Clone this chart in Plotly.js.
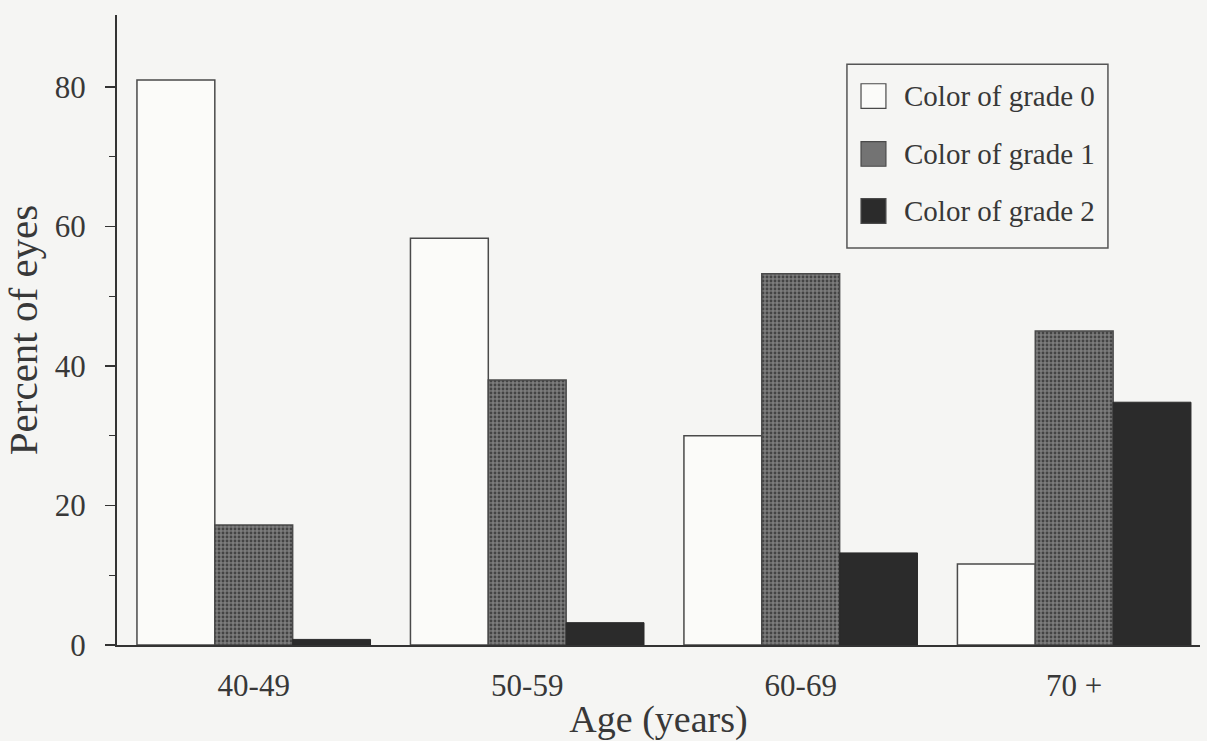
<!DOCTYPE html>
<html>
<head>
<meta charset="utf-8">
<script src="https://cdn.plot.ly/plotly-3.0.1.min.js"></script>
<style>
  html, body { margin: 0; padding: 0; background: #f5f5f3; }
  #chart { width: 1207px; height: 741px; }
</style>
</head>
<body>
<div id="chart"></div>
<script>
// ---- data ----
const ageGroups = ["40-49", "50-59", "60-69", "70 +"];
const seriesNames = ["Color of grade 0", "Color of grade 1", "Color of grade 2"];
const grade0 = [81, 58.3, 30, 11.6];
const grade1 = [17.2, 38, 53.2, 45];
const grade2 = [0.8, 3.2, 13.2, 34.8];
const yTickVals = [0, 20, 40, 60, 80];
const yMinorVals = [10, 30, 50, 70];
const xTitle = "Age (years)";
const yTitle = "Percent of eyes";

// ---- styles ----
const FONT = "Liberation Serif, Times New Roman, serif";
const INK = "#383838";
const outline = { color: "#4a4a4a", width: 1.5 };

const styles = [
  { color: "#fbfbf9", line: outline },
  { color: "#6e6e6e", line: outline,
    pattern: { shape: ".", bgcolor: "#7c7c7c", fgcolor: "#444444", size: 4, solidity: 0.4 } },
  { color: "#2b2b2b", line: { color: "#2b2b2b", width: 1 } }
];

const values = [grade0, grade1, grade2];
const traces = values.map((vals, i) => ({
  type: "bar",
  name: seriesNames[i],
  x: ageGroups,
  y: vals,
  marker: styles[i],
  showlegend: false,
  hoverinfo: "x+y+name"
}));

// manual legend (layout decoration built from series names)
const shapes = [{
  type: "rect", xref: "paper", yref: "paper",
  x0: 0.674, x1: 0.915, y0: 0.630, y1: 0.922,
  line: { color: "#555", width: 1.5 }, fillcolor: "rgba(0,0,0,0)"
}];
const annotations = [];
const rowY = [0.8714, 0.7794, 0.6889];
const symColors = ["#fbfbf9", "#737373", "#2b2b2b"];
seriesNames.forEach((name, i) => {
  shapes.push({
    type: "rect", xref: "paper", yref: "paper",
    x0: 0.687, x1: 0.710, y0: rowY[i] - 0.0195, y1: rowY[i] + 0.0195,
    line: { color: "#4a4a4a", width: 1.2 }, fillcolor: symColors[i]
  });
  annotations.push({
    xref: "paper", yref: "paper", x: 0.7248, y: rowY[i],
    xanchor: "left", yanchor: "middle", showarrow: false,
    text: name, font: { family: FONT, size: 29, color: INK }
  });
});

const layout = {
  width: 1207, height: 741,
  margin: { l: 117, r: 7, t: 15, b: 96 },
  paper_bgcolor: "#f5f5f3",
  plot_bgcolor: "#f5f5f3",
  barmode: "group",
  bargap: 0.146,
  bargroupgap: 0,
  font: { family: FONT, color: INK },
  xaxis: {
    type: "category",
    range: [-0.5, 3.46],
    showline: true, linecolor: "#333", linewidth: 2,
    ticks: "", showgrid: false, zeroline: false,
    tickfont: { family: FONT, size: 31, color: INK },
    ticklabelstandoff: 12,
    title: { text: xTitle, font: { family: FONT, size: 38, color: INK }, standoff: 33 }
  },
  yaxis: {
    range: [0, 90.3],
    tickvals: yTickVals,
    ticktext: yTickVals.map(String),
    ticks: "outside", ticklen: 10, tickwidth: 1.5, tickcolor: "#333",
    minor: { tickvals: yMinorVals, ticks: "outside", ticklen: 6, tickwidth: 1.2, tickcolor: "#333", showgrid: false },
    showline: true, linecolor: "#333", linewidth: 2,
    showgrid: false, zeroline: false,
    tickfont: { family: FONT, size: 31, color: INK },
    ticklabelstandoff: 13,
    title: { text: yTitle, font: { family: FONT, size: 41, color: INK }, standoff: 12 }
  },
  shapes: shapes,
  annotations: annotations
};

Plotly.newPlot("chart", traces, layout, { displayModeBar: false, staticPlot: true });
</script>
</body>
</html>
